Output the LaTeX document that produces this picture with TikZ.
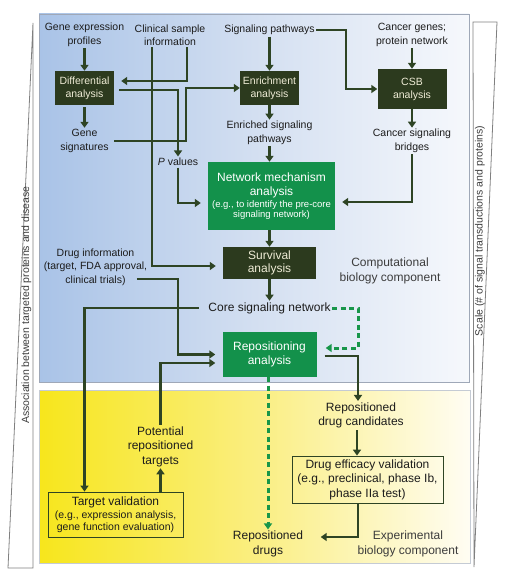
\documentclass[tikz,border=0pt]{standalone}
\usepackage{fontspec}
\setmainfont{Liberation Sans}
\usetikzlibrary{arrows.meta}

\definecolor{linie}{HTML}{2E4424}
\definecolor{dunkelbox}{HTML}{2C3A1E}
\definecolor{gruenbox}{HTML}{13914B}
\definecolor{strichgruen}{HTML}{18964A}
\definecolor{boxtext}{HTML}{EFECD6}
\definecolor{schrift}{HTML}{1C1C1C}
\definecolor{grauschrift}{HTML}{3C3C3C}
\definecolor{blauL}{HTML}{A9C3E7}
\definecolor{blauM}{HTML}{D3DFF1}
\definecolor{blauR}{HTML}{F6F8FC}
\definecolor{gelbL}{HTML}{F7E61C}
\definecolor{gelbM}{HTML}{FAEE80}
\definecolor{gelbR}{HTML}{FFFDF3}
\definecolor{rand}{HTML}{9FA8B8}

\begin{document}
\begin{tikzpicture}[x=1pt,y=-1pt,
    txt/.style={align=center,inner sep=1.5pt,text=schrift,font=\fontsize{10.5}{13.5}\selectfont},
    txtgross/.style={txt,font=\fontsize{12}{14.5}\selectfont},
    dunkel/.style={fill=dunkelbox,text=boxtext,align=center,inner sep=0pt,font=\fontsize{10.5}{13}\selectfont},
    gruen/.style={fill=gruenbox,text=white,align=center,inner sep=0pt,font=\fontsize{12}{14.5}\selectfont},
    rahmen/.style={draw=linie,line width=0.8pt,align=center,inner sep=0pt,text=schrift,font=\fontsize{12}{14.5}\selectfont},
    pfeil/.style={draw=linie,line width=2.4pt,-{Triangle[width=8pt,length=6pt]}},
    strich/.style={draw=strichgruen,line width=3pt,dash pattern=on 5pt off 3.5pt,-{Triangle[width=8pt,length=6pt]}},
    abstand/.style={shorten >=7pt}]
    \useasboundingbox (0,0) rectangle (505,578);

    % Hintergrund
    \shadedraw[left color=blauL,right color=blauR,middle color=blauM,draw=rand,line width=0.7pt] (39,14) rectangle (469,382);
    \shadedraw[left color=gelbL,right color=gelbR,middle color=gelbM,draw=rand!60,line width=0.7pt] (39,390) rectangle (470,563);

    % Keile links und rechts
    \draw[gray,line width=0.8pt] (33,23) -- (33,568) -- (8,568) -- cycle;
    \draw[gray,line width=0.8pt] (473,22) -- (497,22) -- (474,567) -- cycle;
    \node[txt,rotate=90,text=grauschrift] (assoc) at (26.5,305) {Association between targeted proteins and disease};
    \node[txt,rotate=90,text=grauschrift] (scale) at (480,231) {Scale (\# of signal transductions and proteins)};

    % Eingaben oben
    \node[txt] (gep) at (84.5,35) {Gene expression\\profiles};
    \node[txt] (csi) at (170,35) {Clinical sample\\information};
    \node[txt] (sigp) at (269.5,30) {Signaling pathways};
    \node[txt] (cgpn) at (412,35) {Cancer genes;\\protein network};

    % Analysen
    \node[dunkel,minimum width=59pt,minimum height=34pt] (diff) at (84.5,88) {Differential\\analysis};
    \node[dunkel,minimum width=59pt,minimum height=34pt] (enr) at (269.5,88) {Enrichment\\analysis};
    \node[dunkel,minimum width=69pt,minimum height=40pt] (csb) at (412,89) {CSB\\analysis};
    \node[txt] (gsig) at (84.5,141) {Gene\\signatures};
    \node[txt] (pval) at (178,162) {\textit{P} values};
    \node[txt] (esp) at (269.5,133) {Enriched signaling\\pathways};
    \node[txt] (csbr) at (412,141) {Cancer signaling\\bridges};
    \node[gruen,minimum width=127pt,minimum height=68pt] (net) at (271.5,196) {Network mechanism\\analysis\\[-3pt]{\fontsize{9.5}{11}\selectfont (e.g., to identify the pre-core}\\[-4pt]{\fontsize{9.5}{11}\selectfont signaling network)}};
    \node[dunkel,minimum width=93pt,minimum height=32pt,font=\fontsize{12}{13.5}\selectfont] (surv) at (269.5,263) {Survival\\analysis};
    \node[txtgross] (core) at (269.5,308) {Core signaling network};
    \node[txt] (drug) at (95.5,267) {Drug information\\(target, FDA approval,\\clinical trials)};
    \node[txtgross,text=grauschrift] (comp) at (390,271) {Computational\\biology component};
    \node[gruen,minimum width=94pt,minimum height=45pt] (rep) at (269.5,354.5) {Repositioning\\analysis};

    % Experimentelle Seite
    \node[txtgross] (rdc) at (361,415.5) {Repositioned\\drug candidates};
    \node[rahmen,minimum width=151pt,minimum height=47pt] (dev) at (367.5,479.5) {Drug efficacy validation\\(e.g., preclinical, phase Ib,\\phase IIa test)};
    \node[rahmen,minimum width=135pt,minimum height=45pt] (tv) at (115.5,514.5) {Target validation\\[-1pt]{\fontsize{10.5}{12}\selectfont (e.g., expression analysis,}\\[-2.5pt]{\fontsize{10.5}{12}\selectfont gene function evaluation)}};
    \node[txtgross] (prt) at (160.5,446.5) {Potential\\repositioned\\targets};
    \node[txtgross] (rd) at (268,544) {Repositioned\\drugs};
    \node[txtgross,text=grauschrift] (exp) at (408,544) {Experimental\\biology component};

    % Verbindungen
    \draw[pfeil] (gep.south) -- (diff.north);
    \draw[pfeil,shorten <=2pt] (diff.south) -- (gsig.north);
    \draw[pfeil,abstand] ([xshift=17pt]csi.south) |- ([yshift=7pt]diff.east);
    \draw[pfeil,abstand] ([xshift=-18pt]csi.south) |- ([yshift=-3pt]surv.west);
    \draw[pfeil,shorten <=5pt] ([yshift=-2pt]diff.east) -| (pval.north);
    \coordinate (knickA) at (186,110);
    \draw[pfeil] ([xshift=4pt]gsig.east) -| (knickA) |- (enr.west);
    \draw[pfeil] (sigp.south) -- (enr.north);
    \coordinate (knickB) at (346,60);
    \draw[pfeil] (sigp.east) -| (knickB) |- (csb.west);
    \draw[pfeil] (cgpn.south) -- (csb.north);
    \draw[pfeil] (csb.south) -- (csbr.north);
    \draw[pfeil,abstand] (csbr.south) |- ([yshift=-6pt]net.east);
    \draw[pfeil] (enr.south) -- (esp.north);
    \draw[pfeil] (esp.south) -- (esp.south |- net.north);
    \draw[pfeil,abstand] (pval.south) |- ([yshift=-7pt]net.west);
    \draw[pfeil] (surv.north |- net.south) -- (surv.north);
    \draw[pfeil] (surv.south) -- (core.north);
    \coordinate (drugaus) at ([xshift=-12pt,yshift=-12pt]drug.east);
    \coordinate (knickC) at (178,320);
    \draw[pfeil,abstand] (drugaus) -| (knickC) |- (rep.west);
    \draw[pfeil] ([xshift=-8pt]core.west) -| ([xshift=-31pt]tv.north);
    \draw[pfeil] ([xshift=45pt]tv.north) -- (prt.south);
    \draw[pfeil,abstand] (prt.north) |- ([yshift=-8.5pt]rep.west);
    \coordinate (knickD) at (358,330);
    \draw[strich,shorten >=9pt] (core.east) -| (knickD) |- ([yshift=6.5pt]rep.east);
    \draw[pfeil,shorten <=8pt] ([yshift=-1.5pt]rep.east) -| ([xshift=-3pt]rdc.north);
    \draw[pfeil] ([xshift=-4pt]rdc.south) -- ([xshift=-4pt]rdc.south |- dev.north);
    \draw[pfeil] ([xshift=-9.5pt]dev.south) |- ([xshift=16pt,yshift=7pt]rd.east);
    \draw[strich] ([xshift=-1.5pt]rep.south) -- ([xshift=-1.5pt]rep.south |- rd.north);
\end{tikzpicture}
\end{document}
